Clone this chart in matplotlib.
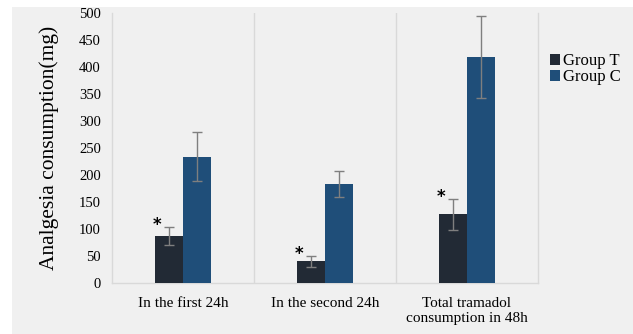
import matplotlib
matplotlib.use("Agg")
import matplotlib.pyplot as plt
import numpy as np
from matplotlib.patches import Rectangle

# data
categories = ["In the first 24h", "In the second 24h", "Total tramadol\nconsumption in 48h"]
group_t = [87, 40, 127]
group_t_err = [17, 10, 28]
group_c = [234, 184, 418]
group_c_err = [45, 24, 76]
y_ticks = [0, 50, 100, 150, 200, 250, 300, 350, 400, 450, 500]

col_t = "#222a35"
col_c = "#1f4e79"
bg = "#f0f0f0"
line_col = "#d9d9d9"

plt.rcParams['font.family'] = ['Liberation Serif', 'DejaVu Serif']

fig = plt.figure(figsize=(6.33, 3.34), dpi=100)
fig.patch.set_facecolor("white")
# grey panel behind the chart
fig.patches.append(Rectangle((12 / 633, 0), 1, 1 - 7 / 334, transform=fig.transFigure,
                             facecolor=bg, edgecolor="none", zorder=-10))

ax = fig.add_axes([112 / 633, 1 - 283 / 334, 426 / 633, 270 / 334])
ax.set_zorder(5)
ax.set_facecolor(bg)

x = np.arange(len(categories))
w = 0.197
err_kw = dict(ecolor="#7f7f7f", elinewidth=1, capsize=3.5, capthick=1)
ax.bar(x - w / 2, group_t, w, yerr=group_t_err, color=col_t, label="Group T",
       error_kw=err_kw, zorder=3)
ax.bar(x + w / 2, group_c, w, yerr=group_c_err, color=col_c, label="Group C",
       error_kw=err_kw, zorder=3)

# significance stars
for xi, v, e in zip(x, group_t, group_t_err):
    ax.text(xi - w * 0.93, v + e - 5, "*", ha="center", va="baseline", fontsize=12,
            fontweight="bold", family="DejaVu Sans", zorder=4)

ax.set_xlim(-0.5, 2.5)
ax.set_ylim(0, 500)
ax.set_yticks(y_ticks)
ax.set_xticks(x)
ax.set_xticklabels(categories, fontsize=11)
ax.tick_params(axis="y", labelsize=10.5, length=0, pad=8)
ax.tick_params(axis="x", length=0, pad=10)

for xb in [0.5, 1.5]:
    ax.axvline(xb, color=line_col, linewidth=1, zorder=1)
for s in ["left", "right", "bottom"]:
    ax.spines[s].set_color(line_col)
    ax.spines[s].set_linewidth(1)
ax.spines["top"].set_visible(False)

ax.set_ylabel("Analgesia consumption(mg)", fontsize=15.5, labelpad=14)

leg = ax.legend(loc="upper left", bbox_to_anchor=(1.012, 0.875), frameon=False,
                fontsize=12, handlelength=0.6, handleheight=0.6, handletextpad=0.2,
                labelspacing=0.0, borderaxespad=0)

fig.savefig("out.png", dpi=100, facecolor=fig.get_facecolor())
